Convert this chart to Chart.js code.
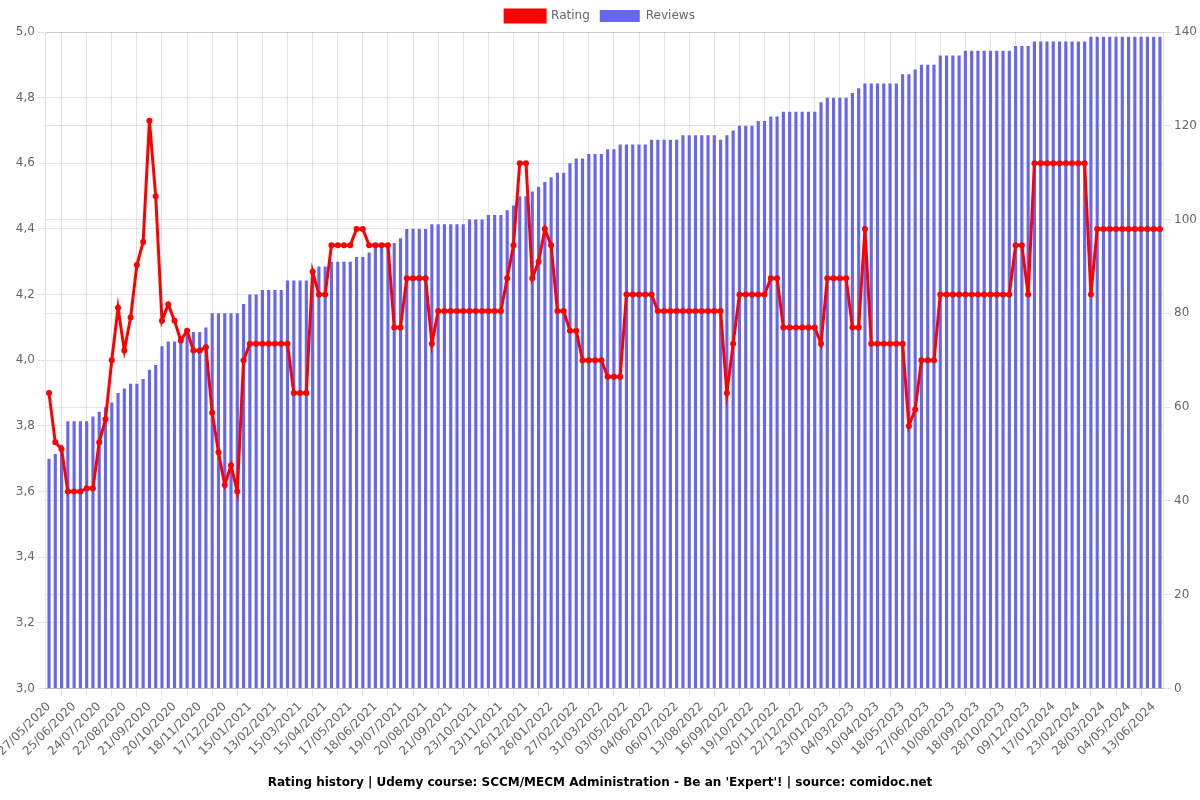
<!DOCTYPE html>
<html>
<head>
<meta charset="utf-8">
<title>Rating history</title>
<script src="https://cdn.jsdelivr.net/npm/chart.js"></script>
<style>
  html, body { margin: 0; padding: 0; background: #fff; }
  #wrap { width: 1200px; height: 800px; }
</style>
</head>
<body>
<div id="wrap"><canvas id="ratingChart"></canvas></div>
<script>
// dates shown on the x axis (every 4th snapshot)
const tickDates = [
  '27/05/2020', '25/06/2020', '24/07/2020', '22/08/2020', '21/09/2020', '20/10/2020', '18/11/2020', '17/12/2020',
  '15/01/2021', '13/02/2021', '15/03/2021', '15/04/2021', '17/05/2021', '18/06/2021', '19/07/2021', '20/08/2021',
  '21/09/2021', '23/10/2021', '23/11/2021', '26/12/2021', '26/01/2022', '27/02/2022', '31/03/2022', '03/05/2022',
  '04/06/2022', '06/07/2022', '13/08/2022', '16/09/2022', '19/10/2022', '20/11/2022', '22/12/2022', '23/01/2023',
  '04/03/2023', '10/04/2023', '18/05/2023', '27/06/2023', '10/08/2023', '18/09/2023', '28/10/2023', '09/12/2023',
  '17/01/2024', '23/02/2024', '28/03/2024', '04/05/2024', '13/06/2024'
];

// course rating per snapshot
const rating = [
  3.90, 3.75, 3.73, 3.60, 3.60, 3.60, 3.61, 3.61, 3.75, 3.82,
  4.00, 4.16, 4.03, 4.13, 4.29, 4.36, 4.73, 4.50, 4.12, 4.17,
  4.12, 4.06, 4.09, 4.03, 4.03, 4.04, 3.84, 3.72, 3.62, 3.68,
  3.60, 4.00, 4.05, 4.05, 4.05, 4.05, 4.05, 4.05, 4.05, 3.90,
  3.90, 3.90, 4.27, 4.20, 4.20, 4.35, 4.35, 4.35, 4.35, 4.40,
  4.40, 4.35, 4.35, 4.35, 4.35, 4.10, 4.10, 4.25, 4.25, 4.25,
  4.25, 4.05, 4.15, 4.15, 4.15, 4.15, 4.15, 4.15, 4.15, 4.15,
  4.15, 4.15, 4.15, 4.25, 4.35, 4.60, 4.60, 4.25, 4.30, 4.40,
  4.35, 4.15, 4.15, 4.09, 4.09, 4.00, 4.00, 4.00, 4.00, 3.95,
  3.95, 3.95, 4.20, 4.20, 4.20, 4.20, 4.20, 4.15, 4.15, 4.15,
  4.15, 4.15, 4.15, 4.15, 4.15, 4.15, 4.15, 4.15, 3.90, 4.05,
  4.20, 4.20, 4.20, 4.20, 4.20, 4.25, 4.25, 4.10, 4.10, 4.10,
  4.10, 4.10, 4.10, 4.05, 4.25, 4.25, 4.25, 4.25, 4.10, 4.10,
  4.40, 4.05, 4.05, 4.05, 4.05, 4.05, 4.05, 3.80, 3.85, 4.00,
  4.00, 4.00, 4.20, 4.20, 4.20, 4.20, 4.20, 4.20, 4.20, 4.20,
  4.20, 4.20, 4.20, 4.20, 4.35, 4.35, 4.20, 4.60, 4.60, 4.60,
  4.60, 4.60, 4.60, 4.60, 4.60, 4.60, 4.20, 4.40, 4.40, 4.40,
  4.40, 4.40, 4.40, 4.40, 4.40, 4.40, 4.40, 4.40
];

// number of reviews per snapshot
const reviews = [
  49, 50, 52, 57, 57, 57, 57, 58, 59, 60,
  61, 63, 64, 65, 65, 66, 68, 69, 73, 74,
  74, 75, 76, 76, 76, 77, 80, 80, 80, 80,
  80, 82, 84, 84, 85, 85, 85, 85, 87, 87,
  87, 87, 89, 90, 90, 91, 91, 91, 91, 92,
  92, 93, 94, 94, 94, 95, 96, 98, 98, 98,
  98, 99, 99, 99, 99, 99, 99, 100, 100, 100,
  101, 101, 101, 102, 103, 105, 105, 106, 107, 108,
  109, 110, 110, 112, 113, 113, 114, 114, 114, 115,
  115, 116, 116, 116, 116, 116, 117, 117, 117, 117,
  117, 118, 118, 118, 118, 118, 118, 117, 118, 119,
  120, 120, 120, 121, 121, 122, 122, 123, 123, 123,
  123, 123, 123, 125, 126, 126, 126, 126, 127, 128,
  129, 129, 129, 129, 129, 129, 131, 131, 132, 133,
  133, 133, 135, 135, 135, 135, 136, 136, 136, 136,
  136, 136, 136, 136, 137, 137, 137, 138, 138, 138,
  138, 138, 138, 138, 138, 138, 139, 139, 139, 139,
  139, 139, 139, 139, 139, 139, 139, 139
];

// one category per snapshot, only every 4th one carries its date
const labels = rating.map((r, i) => (i % 4 === 0 ? tickDates[i / 4] : ''));

Chart.defaults.font.family = "'DejaVu Sans', sans-serif";
Chart.defaults.font.size = 12;
Chart.defaults.color = '#666';

const ctx = document.getElementById('ratingChart').getContext('2d');
new Chart(ctx, {
  type: 'bar',
  data: {
    labels: labels,
    datasets: [
      {
        type: 'line',
        label: 'Rating',
        data: rating,
        yAxisID: 'y',
        borderColor: 'red',
        backgroundColor: 'red',
        borderWidth: 3,
        pointRadius: 3,
        pointBorderWidth: 0,
        pointBackgroundColor: 'red',
        tension: 0
      },
      {
        label: 'Reviews',
        data: reviews,
        yAxisID: 'y1',
        backgroundColor: 'rgb(102, 102, 238)',
        borderWidth: 0,
        barPercentage: 0.5,
        categoryPercentage: 1
      }
    ]
  },
  options: {
    responsive: true,
    maintainAspectRatio: false,
    animation: false,
    devicePixelRatio: 1,
    plugins: {
      legend: { position: 'top' },
      title: {
        display: true,
        position: 'bottom',
        text: "Rating history | Udemy course: SCCM/MECM Administration - Be an 'Expert'! | source: comidoc.net",
        color: '#000',
        font: { size: 12, weight: 'bold' },
        padding: { top: 14, bottom: 10 }
      },
      tooltip: { enabled: false }
    },
    scales: {
      x: {
        ticks: { minRotation: 45, maxRotation: 45 },
        // the first rotated label needs a little less room on the left
        afterFit: scale => { scale.paddingLeft = Math.max(scale.paddingLeft - 3, 0); }
      },
      y: {
        position: 'left',
        min: 3,
        max: 5,
        ticks: {
          stepSize: 0.2,
          callback: v => v.toFixed(1).replace('.', ',')
        }
      },
      y1: {
        position: 'right',
        min: 0,
        max: 140,
        ticks: { stepSize: 20 }
      }
    }
  }
});
</script>
</body>
</html>
